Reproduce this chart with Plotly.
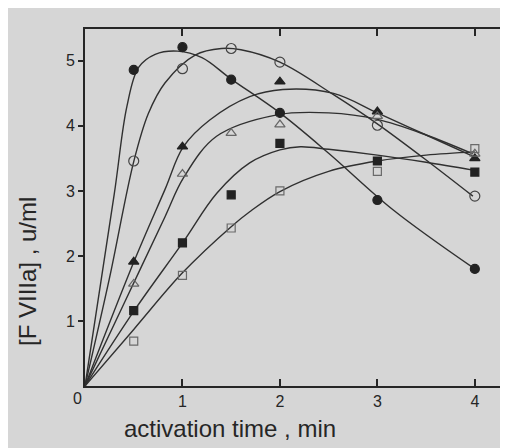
import plotly.graph_objects as go

# measured points
t_pts = [0.5, 1, 1.5, 2, 3, 4]
fc_pts = [4.86, 5.21, 4.71, 4.20, 2.86, 1.80]      # filled circle
oc_pts = [3.46, 4.88, 5.19, 4.98, 4.01, 2.92]      # open circle
ft_t = [0.5, 1, 2, 3, 4]
ft_pts = [1.91, 3.68, 4.68, 4.22, 3.50]            # filled triangle
ot_pts = [1.57, 3.26, 3.89, 4.02, 4.15, 3.57]      # open triangle
fs_pts = [1.16, 2.20, 2.94, 3.73, 3.46, 3.29]      # filled square
os_pts = [0.69, 1.70, 2.43, 3.00, 3.30, 3.65]      # open square

# fitted curves
fc_cx = [0, 0.3, 0.43, 0.55, 0.72, 0.95, 1.2, 1.5, 2.0, 2.5, 3.16, 4.0]
fc_cy = [0, 2.95, 4.3, 4.9, 5.1, 5.15, 5.05, 4.72, 4.20, 3.58, 2.71, 1.80]
oc_cx = [0, 0.25, 0.5, 0.65, 0.82, 1.13, 1.4, 1.6, 2.0, 2.55, 3.01, 3.54, 3.98]
oc_cy = [0, 1.65, 3.45, 4.19, 4.66, 5.09, 5.19, 5.17, 4.98, 4.48, 4.02, 3.43, 2.92]
ft_cx = [0, 0.51, 0.82, 1.01, 1.28, 1.69, 2.03, 2.55, 3.0, 3.5, 4.0]
ft_cy = [0, 1.94, 3.02, 3.68, 4.09, 4.45, 4.56, 4.50, 4.20, 3.86, 3.52]
ot_cx = [0, 0.41, 0.82, 1.01, 1.35, 1.97, 2.5, 3.0, 3.5, 3.98]
ot_cy = [0, 1.30, 2.60, 3.20, 3.84, 4.17, 4.20, 4.10, 3.86, 3.57]
fs_cx = [0, 0.51, 1.01, 1.35, 1.69, 2.0, 2.21, 2.5, 3.0, 3.5, 3.98]
fs_cy = [0, 1.17, 2.22, 2.96, 3.43, 3.63, 3.68, 3.64, 3.55, 3.44, 3.32]
os_cx = [0, 0.5, 1.0, 1.5, 1.69, 2.0, 2.5, 3.0, 3.5, 4.0]
os_cy = [0, 0.87, 1.74, 2.45, 2.68, 2.99, 3.30, 3.46, 3.55, 3.60]

x_ticks = [1, 2, 3, 4]
y_ticks = [1, 2, 3, 4, 5]

ink = '#262626'
bg = '#d6d6d6'
font = 'Liberation Sans, Arial, sans-serif'

fig = go.Figure()
for cx, cy in [(fc_cx, fc_cy), (oc_cx, oc_cy), (ft_cx, ft_cy),
               (ot_cx, ot_cy), (fs_cx, fs_cy), (os_cx, os_cy)]:
    fig.add_trace(go.Scatter(x=cx, y=cy, mode='lines',
                             line=dict(color='#303030', width=1.4, shape='spline', smoothing=1),
                             hoverinfo='skip', showlegend=False))

markers = [
    (t_pts, fc_pts, 'circle', 9, '#222222', '#222222'),
    (t_pts, oc_pts, 'circle-open', 10, '#444444', '#444444'),
    (ft_t, ft_pts, 'triangle-up', 9, '#222222', '#222222'),
    (t_pts, ot_pts, 'triangle-up-open', 9, '#666666', '#666666'),
    (t_pts, fs_pts, 'square', 8, '#222222', '#222222'),
    (t_pts, os_pts, 'square-open', 8, '#6a6a6a', '#6a6a6a'),
]
for x, y, sym, sz, col, lc in markers:
    fig.add_trace(go.Scatter(x=x, y=y, mode='markers',
                             marker=dict(symbol=sym, size=sz, color=col,
                                         line=dict(color=lc, width=1.2)),
                             showlegend=False))

# invisible trace to activate mirror axes
fig.add_trace(go.Scatter(x=[0], y=[0], xaxis='x2', yaxis='y2', mode='markers',
                         marker=dict(opacity=0), showlegend=False, hoverinfo='skip'))

XR = [0, 4.33]
YR = [0, 5.49]
common = dict(showgrid=False, zeroline=False, automargin=False, tickwidth=1.5,
              tickcolor=ink, showline=True, linewidth=2, linecolor=ink)
fig.update_layout(
    width=500, height=440,
    margin=dict(l=77, r=1, t=21, b=62, autoexpand=False),
    paper_bgcolor=bg, plot_bgcolor=bg,
    font=dict(family=font, color=ink, size=16),
    xaxis=dict(range=XR, tickvals=x_ticks, ticks='inside', ticklen=7,
               tickfont=dict(size=16, color=ink), **common),
    yaxis=dict(range=YR, tickvals=y_ticks, ticks='outside', ticklen=5,
               tickfont=dict(size=16, color=ink), **common),
    xaxis2=dict(range=XR, overlaying='x', side='top', tickvals=x_ticks, ticks='inside',
                ticklen=7, showticklabels=False, **common),
    yaxis2=dict(range=YR, overlaying='y', side='right', tickvals=y_ticks, ticks='inside',
                ticklen=7, showticklabels=False, **common),
    annotations=[
        dict(text='0', xref='x', yref='paper', x=0, y=0, xshift=-8, yshift=-12,
             showarrow=False, font=dict(size=16, color=ink), xanchor='center', yanchor='middle'),
        dict(text='activation time , min', xref='paper', yref='paper',
             x=(230 - 85) / 422, y=-(428 - 386) / 357, showarrow=False,
             font=dict(size=24, color=ink), xanchor='center', yanchor='middle'),
        dict(text='[F VIIIa] , u/ml', xref='paper', yref='paper',
             x=-(85 - 27) / 422, y=(386 - 272) / 357, textangle=-90, showarrow=False,
             font=dict(size=24, color=ink), xanchor='center', yanchor='middle'),
    ],
)
fig.write_html('out.html')
